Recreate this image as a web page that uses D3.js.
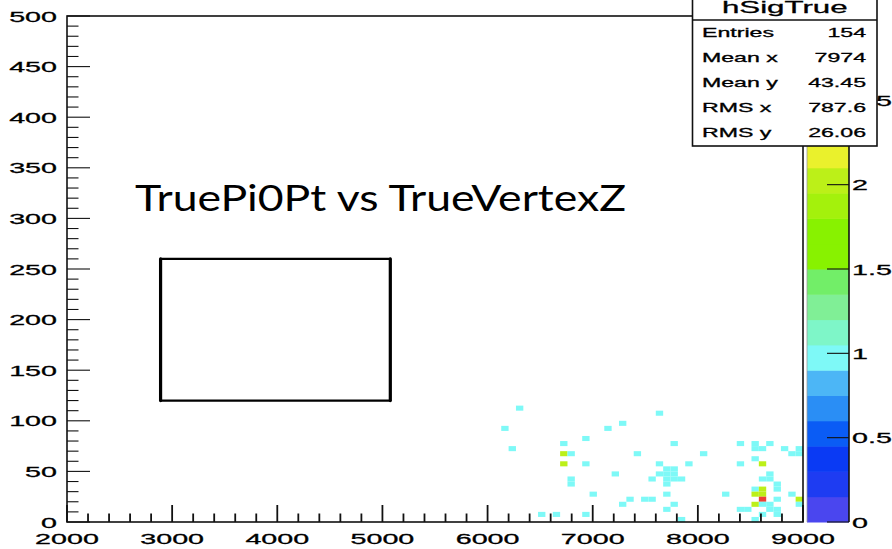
<!DOCTYPE html>
<html>
<head>
<meta charset="utf-8">
<script src="https://cdn.jsdelivr.net/npm/d3@7"></script>
<style>
  html, body { margin: 0; padding: 0; background: #fff; }
  svg { display: block; }
  text.rt { font-family: "Liberation Sans", Arial, Helvetica, sans-serif; fill: #000; stroke: #000; stroke-width: 0.3px; }
</style>
</head>
<body>
<svg id="chart" width="892" height="549"></svg>
<script>
// hSigTrue: TruePi0Pt vs TrueVertexZ, 2D histogram (70 x 5 bins), drawn COLZ style
const binWidthX = 70;
const binWidthY = 5;

// lower bin edges (TrueVertexZ, TruePi0Pt) and bin contents
const vertexZ = [6130, 6200, 6270, 6480, 6620, 6690, 6690, 6760, 6690, 6760, 6760, 6900, 6900, 6900, 6970,
  7110, 7180, 7250, 7250, 7320, 7390, 7460, 7530, 7530, 7600, 7600, 7600, 7670, 7670, 7670, 7670, 7670, 7670,
  7740, 7740, 7740, 7740, 7740, 7810, 7810, 7880, 8020, 8230, 8370, 8370, 8370, 8440,
  8510, 8510, 8510, 8510, 8510, 8510, 8510, 8580, 8580, 8580, 8580, 8580, 8580, 8580, 8580,
  8650, 8650, 8650, 8650, 8650, 8720, 8720, 8720, 8720, 8720, 8790, 8860, 8860, 8930, 8930, 8930, 8930];
const pi0Pt = [90, 70, 110, 5, 5, 75, 65, 65, 55, 40, 35, 80, 55, 5, 25,
  90, 45, 95, 15, 20, 65, 20, 20, 40, 105, 55, 45, 50, 45, 40, 35, 25, 10,
  75, 50, 45, 40, 15, 40, 0, 55, 65, 25, 75, 55, 10, 10,
  75, 70, 60, 30, 25, 15, 0, 70, 55, 40, 30, 25, 20, 15, 5,
  75, 45, 40, 15, 10, 35, 30, 20, 10, 5, 70, 65, 25, 70, 65, 20, 15];
const counts = [1, 1, 1, 1, 1, 1, 2, 1, 2, 1, 1, 1, 1, 1, 1,
  1, 1, 1, 1, 1, 1, 1, 1, 1, 1, 1, 1, 1, 1, 1, 1, 1, 1,
  1, 1, 1, 1, 1, 1, 1, 1, 1, 1, 1, 1, 1, 1,
  1, 1, 1, 1, 2, 2, 1, 1, 2, 1, 2, 2, 3, 1, 1,
  1, 1, 1, 1, 1, 1, 1, 1, 1, 1, 1, 1, 1, 1, 1, 2, 1];

// axis ticks
const xTicks = [2000, 3000, 4000, 5000, 6000, 7000, 8000, 9000];
const yTicks = [0, 50, 100, 150, 200, 250, 300, 350, 400, 450, 500];
const zTicks = [0, 0.5, 1, 1.5, 2, 2.5, 3];

// colour palette: 20 contour levels between 0 and zMax
const zMax = 3;
const nLevels = 20;
const palette = ["#4a46ef", "#1e3cf2", "#0a3af4", "#0a5cf5", "#2a8ef5", "#4cb6f6", "#7ef9f7", "#7ef6c8",
  "#80ef96", "#72ee68", "#88f200", "#88f200", "#a4f10c", "#bcf018", "#eaf12c", "#f2d22a",
  "#f3aa26", "#f38224", "#f25c2a", "#ee4034"];

// stats box
const statsTitle = "hSigTrue";
const statsNames = ["Entries", "Mean x", "Mean y", "RMS x", "RMS y"];
const statsValues = ["154", "7974", "43.45", "787.6", "26.06"];

// annotation
const noteText = "TruePi0Pt vs TrueVertexZ";
const boxZ = [2890, 5075];
const boxPt = [120, 260];

(function draw() {
  const svg = d3.select("#chart");
  const pL = 67, pR = 803, pT = 16, pB = 522;
  const x = d3.scaleLinear().domain([2000, 9000]).range([pL, pR]);
  const y = d3.scaleLinear().domain([0, 500]).range([pB, pT]);
  const z = d3.scaleLinear().domain([0, zMax]).range([pB, pT]);
  const level = v => Math.min(nLevels - 1, Math.floor(v / (zMax / nLevels) + 1e-9));

  const SX = 1.85;   // horizontal stretch of the canvas text
  function stext(g, px, py, str, size, anchor, sx) {
    return g.append("text").attr("class", "rt")
      .attr("transform", `translate(${px},${py}) scale(${sx},1)`)
      .attr("text-anchor", anchor)
      .style("font-size", size + "px")
      .text(str);
  }

  // cells
  const cells = vertexZ.map((vz, i) => ({ vz, pt: pi0Pt[i], n: counts[i] }));
  svg.append("g").selectAll("rect").data(cells).join("rect")
    .attr("x", d => x(d.vz))
    .attr("y", d => y(d.pt + binWidthY))
    .attr("width", d => x(d.vz + binWidthX) - x(d.vz))
    .attr("height", d => y(d.pt) - y(d.pt + binWidthY))
    .attr("fill", d => palette[level(d.n)]);

  // frame
  svg.append("rect").attr("x", pL).attr("y", pT)
    .attr("width", pR - pL).attr("height", pB - pT)
    .attr("fill", "none").attr("stroke", "#111").attr("stroke-width", 1.6);

  // x axis ticks
  const ax = svg.append("g").attr("stroke", "#111");
  d3.range(2000, 9000.1, 200).forEach(v => {
    const major = v % 1000 === 0;
    ax.append("line").attr("x1", x(v)).attr("x2", x(v))
      .attr("y1", pB).attr("y2", pB - (major ? 17 : 8.5))
      .attr("stroke-width", 1.8);
  });
  // y axis ticks
  d3.range(0, 500.1, 10).forEach(v => {
    const major = v % 50 === 0;
    ax.append("line").attr("x1", pL).attr("x2", pL + (major ? 23 : 11.5))
      .attr("y1", y(v)).attr("y2", y(v)).attr("stroke-width", 1.1);
  });

  const labels = svg.append("g");
  xTicks.forEach(v => stext(labels, x(v), 544, d3.format("d")(v), 15.5, "middle", SX));
  yTicks.forEach(v => stext(labels, 57, y(v) + 5.6, d3.format("d")(v), 15.5, "end", SX));

  // colour bar
  const barL = 807, barR = 849;
  const bar = svg.append("g");
  d3.range(nLevels).forEach(k => {
    const lo = k * zMax / nLevels, hi = (k + 1) * zMax / nLevels;
    bar.append("rect").attr("x", barL).attr("y", z(hi))
      .attr("width", barR - barL).attr("height", z(lo) - z(hi) + 0.5)
      .attr("fill", palette[k]);
  });
  bar.append("line").attr("x1", barR).attr("x2", barR).attr("y1", pT).attr("y2", pB)
    .attr("stroke", "#111").attr("stroke-width", 1.6);
  bar.append("line").attr("x1", barL).attr("x2", barL).attr("y1", pT).attr("y2", pB)
    .attr("stroke", "#999").attr("stroke-width", 0.8);
  zTicks.forEach(v => {
    bar.append("line").attr("x1", barR - 22).attr("x2", barR)
      .attr("y1", z(v)).attr("y2", z(v)).attr("stroke", "#111").attr("stroke-width", 1.1);
    stext(bar, 852, z(v) + 5.6, String(v), 15.5, "start", SX);
  });

  // statistics box
  const st = svg.append("g");
  const sL = 692.5, sR = 877, sT = -12, sB = 146, sHead = 20;
  st.append("rect").attr("x", sL).attr("y", sT).attr("width", sR - sL).attr("height", sB - sT)
    .attr("fill", "#fff").attr("stroke", "#111").attr("stroke-width", 1.6);
  st.append("line").attr("x1", sL).attr("x2", sR).attr("y1", sHead).attr("y2", sHead)
    .attr("stroke", "#111").attr("stroke-width", 1.4);
  stext(st, (sL + sR) / 2, 13, statsTitle, 17, "middle", 1.84);
  statsNames.forEach((name, i) => {
    stext(st, 702, 37 + 25 * i, name, 13, "start", 1.78);
    stext(st, 866, 37 + 25 * i, statsValues[i], 13, "end", 1.78);
  });

  // annotation text and box
  svg.append("text")
    .attr("x", 135).attr("y", 211)
    .attr("textLength", 491).attr("lengthAdjust", "spacingAndGlyphs")
    .style("font-family", "Lato, 'Open Sans', sans-serif")
    .style("font-size", "37px").style("fill", "#000")
    .text(noteText);
  const bx0 = x(boxZ[0]), bx1 = x(boxZ[1]), by0 = y(boxPt[1]), by1 = y(boxPt[0]);
  const box = svg.append("g").attr("stroke", "#000").attr("stroke-linecap", "round");
  box.append("line").attr("x1", bx0).attr("x2", bx1).attr("y1", by0).attr("y2", by0).attr("stroke-width", 2.2);
  box.append("line").attr("x1", bx0).attr("x2", bx1).attr("y1", by1).attr("y2", by1).attr("stroke-width", 2.2);
  box.append("line").attr("x1", bx0).attr("x2", bx0).attr("y1", by0).attr("y2", by1).attr("stroke-width", 3.2);
  box.append("line").attr("x1", bx1).attr("x2", bx1).attr("y1", by0).attr("y2", by1).attr("stroke-width", 3.2);
})();
</script>
</body>
</html>
